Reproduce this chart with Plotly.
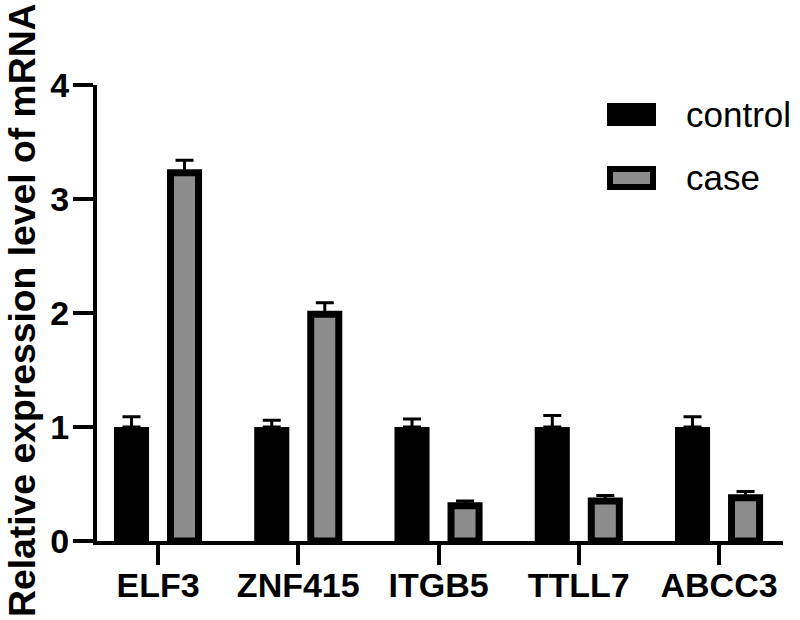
import plotly.graph_objects as go

# ---- data ----
genes = ["ELF3", "ZNF415", "ITGB5", "TTLL7", "ABCC3"]
control_mean = [1.00, 1.00, 1.00, 1.00, 1.00]
control_err = [0.09, 0.06, 0.07, 0.10, 0.09]
case_mean = [3.23, 1.99, 0.31, 0.35, 0.38]
case_err = [0.11, 0.10, 0.04, 0.05, 0.055]
series_names = ["control", "case"]
y_ticks = [0, 1, 2, 3, 4]
y_title = "Relative expression level of mRNA"

# ---- layout constants ----
W, H = 800, 620
L, R, T, B = 97, 17, 85, 79
PW, PH = W - L - R, H - T - B
GRAY = "#8c8c8c"
FONT = "Liberation Sans, Arial, Helvetica, sans-serif"


def px_x(px):
    return (px - L) / PW


def px_y(py):
    return (H - B - py) / PH


fig = go.Figure()
fig.add_bar(
    x=genes, y=control_mean, name=series_names[0],
    width=0.25, offset=-0.314,
    marker=dict(color="black", line=dict(width=0)),
    error_y=dict(type="data", array=control_err, arrayminus=[0] * len(genes),
                 symmetric=False, color="black", thickness=3, width=9),
    showlegend=False,
)
fig.add_bar(
    x=genes, y=case_mean, name=series_names[1],
    width=0.2, offset=0.089,
    marker=dict(color=GRAY, line=dict(width=7, color="black")),
    error_y=dict(type="data", array=case_err, arrayminus=[0] * len(genes),
                 symmetric=False, color="black", thickness=3, width=9),
    showlegend=False,
)

# manual legend (large rectangles like the reference)
shapes = [
    dict(type="rect", xref="paper", yref="paper",
         x0=px_x(607), x1=px_x(656), y0=px_y(126), y1=px_y(103),
         fillcolor="black", line=dict(width=0)),
    dict(type="rect", xref="paper", yref="paper",
         x0=px_x(610), x1=px_x(653), y0=px_y(187), y1=px_y(169),
         fillcolor=GRAY, line=dict(width=6, color="black")),
]
annotations = [
    dict(text=series_names[0], xref="paper", yref="paper", x=px_x(684), y=px_y(114),
         xanchor="left", yanchor="middle", showarrow=False,
         font=dict(family=FONT, size=35, color="black")),
    dict(text=series_names[1], xref="paper", yref="paper", x=px_x(684), y=px_y(177),
         xanchor="left", yanchor="middle", showarrow=False,
         font=dict(family=FONT, size=35, color="black")),
    dict(text=y_title, xref="paper", yref="paper", x=px_x(22), y=px_y(310),
         xanchor="center", yanchor="middle", textangle=-90, showarrow=False,
         font=dict(family=FONT, size=37.3, color="black", weight="bold")),
]

fig.update_layout(
    width=W, height=H,
    margin=dict(l=L, r=R, t=T, b=B, pad=0),
    paper_bgcolor="white", plot_bgcolor="white",
    barmode="overlay",
    shapes=shapes, annotations=annotations,
    showlegend=False,
)
fig.update_xaxes(
    type="category", range=[-0.435, 4.456],
    showline=True, linewidth=4, linecolor="black",
    ticks="outside", ticklen=20, tickwidth=4, tickcolor="black",
    ticklabelstandoff=-9,
    showgrid=False, zeroline=False,
    tickfont=dict(family=FONT, size=34, color="black", weight="bold"),
)
fig.update_yaxes(
    range=[0, 4], tickvals=y_ticks,
    showline=True, linewidth=4, linecolor="black",
    ticks="outside", ticklen=20, tickwidth=4, tickcolor="black",
    ticklabelstandoff=-3,
    showgrid=False, zeroline=False,
    tickfont=dict(family=FONT, size=34, color="black", weight="bold"),
)

fig.write_html("out.html", config={"displayModeBar": False},
               post_script="document.body.style.margin='0';")
